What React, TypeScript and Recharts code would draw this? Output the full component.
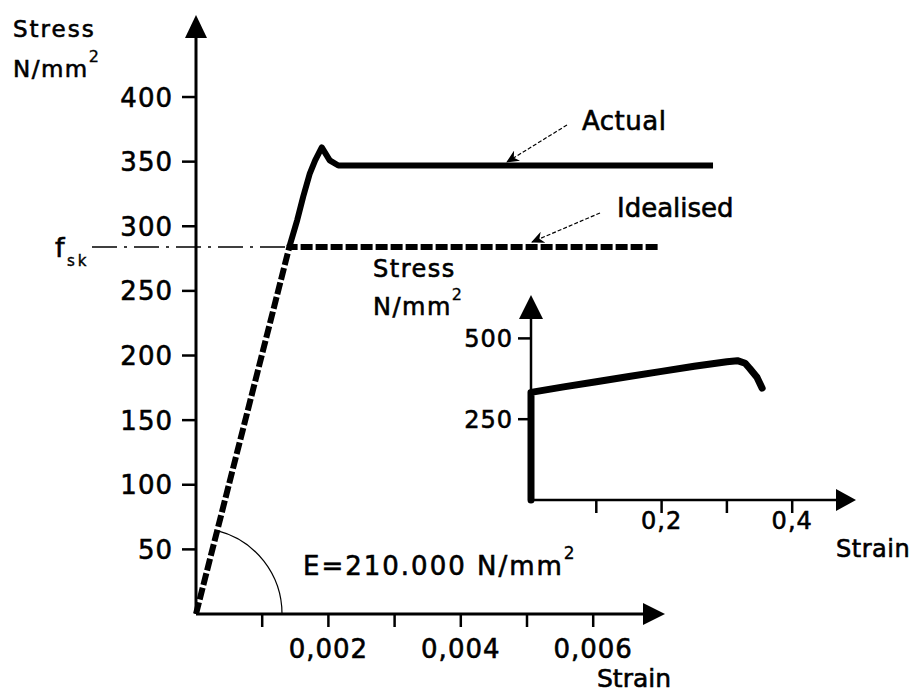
import { LineChart, Line, XAxis, YAxis } from "recharts";

// main diagram: strain [-] vs stress [N/mm2]
const MAIN_X_TICKS = [0.001, 0.002, 0.003, 0.004, 0.005, 0.006];
const MAIN_X_LABELS: Record<string, string> = { "0.002": "0,002", "0.004": "0,004", "0.006": "0,006" };
const MAIN_Y_TICKS = [50, 100, 150, 200, 250, 300, 350, 400];

const IDEALISED_STRAIN = [0, 0.00141, 0.00701];
const IDEALISED_STRESS = [0, 284, 284];

const ACTUAL_STRAIN = [0.00141, 0.00153, 0.00162, 0.00172, 0.0018, 0.0019, 0.00202, 0.00215, 0.00781];
const ACTUAL_STRESS = [284, 305, 323, 341, 351, 361, 351, 347, 347];

const FSK = 284;

// inset: full curve up to rupture
const INSET_STRAIN = [0, 0, 0.05, 0.1, 0.15, 0.2, 0.25, 0.3, 0.316, 0.328, 0.335, 0.346, 0.354];
const INSET_STRESS = [0, 333, 350, 366, 382, 398, 414, 428, 431, 423, 407, 380, 346];
const INSET_X_TICKS = [0.1, 0.2, 0.3, 0.4];
const INSET_X_LABELS: Record<string, string> = { "0.2": "0,2", "0.4": "0,4" };
const INSET_Y_TICKS = [250, 500];

const toRows = (xs: number[], ys: number[]) => xs.map((strain, i) => ({ strain, stress: ys[i] }));

const idealised = toRows(IDEALISED_STRAIN, IDEALISED_STRESS);
const actual = toRows(ACTUAL_STRAIN, ACTUAL_STRESS);
const inset = toRows(INSET_STRAIN, INSET_STRESS);

const W = 917;
const H = 694;
const FONT = "'DejaVu Sans', 'Liberation Sans', sans-serif";
// the scan's lettering is a bit heavier than a plain regular weight
const INK = { fontFamily: FONT, fill: "#000", stroke: "#000", strokeWidth: 0.6 };

// plot areas (same numbers go into chart margins)
const M = { left: 196, bottom: 614, right: 725.6, top: 32.4, xMax: 0.008, yMax: 450 };
const I = { left: 531, bottom: 500, right: 857.5, top: 319, xMax: 0.5, yMax: 560 };

const mx = (v: number) => M.left + (v / M.xMax) * (M.right - M.left);
const my = (v: number) => M.bottom - (v / M.yMax) * (M.bottom - M.top);

const MainXTick = ({ x, y, payload }: any) => {
    const label = MAIN_X_LABELS[String(payload.value)];
    if (!label) return <g />;
    return (
        <text x={x} y={y} dy={31} textAnchor="middle" fontSize={26} letterSpacing={1} {...INK}>
            {label}
        </text>
    );
};

const MainYTick = ({ x, y, payload }: any) => (
    <text x={x} y={y} dy={9.5} textAnchor="end" fontSize={26} letterSpacing={1} {...INK}>
        {payload.value}
    </text>
);

const InsetXTick = ({ x, y, payload }: any) => {
    const label = INSET_X_LABELS[String(payload.value)];
    if (!label) return <g />;
    return (
        <text x={x} y={y} dy={16} textAnchor="middle" fontSize={24} letterSpacing={1} {...INK}>
            {label}
        </text>
    );
};

const InsetYTick = ({ x, y, payload }: any) => (
    <text x={x} y={y} dy={9} textAnchor="end" fontSize={24} letterSpacing={1} {...INK}>
        {payload.value}
    </text>
);

function Overlay() {
    const cornerX = mx(IDEALISED_STRAIN[1]);
    const fskY = my(FSK);
    // modulus arc drawn round the origin up to the elastic line
    const ang = Math.atan2(M.bottom - fskY, cornerX - M.left);
    const r = 86;
    const arcEnd = [M.left + r * Math.cos(ang), M.bottom - r * Math.sin(ang)];

    return (
        <svg width={W} height={H} style={{ position: "absolute", left: 0, top: 0, pointerEvents: "none" }}>
            <defs>
                <marker id="ah" markerUnits="userSpaceOnUse" markerWidth={14} markerHeight={12} refX={12} refY={6} orient="auto">
                    <path d="M0,0 L13,6 L0,12 L4,6 Z" fill="#000" />
                </marker>
            </defs>

            {/* main axes */}
            <line x1={M.left} y1={M.bottom} x2={M.left} y2={36} stroke="#000" strokeWidth={3} />
            <polygon points={`${M.left},15 ${M.left - 11},38 ${M.left + 11},38`} fill="#000" />
            <line x1={M.left} y1={M.bottom} x2={646} y2={M.bottom} stroke="#000" strokeWidth={3} />
            <polygon points={`665,${M.bottom} 643,${M.bottom - 11} 643,${M.bottom + 11}`} fill="#000" />

            {/* inset axes */}
            <line x1={I.left} y1={I.bottom} x2={I.left} y2={317} stroke="#000" strokeWidth={2.5} />
            <polygon points={`${I.left},295 ${I.left - 12},319 ${I.left + 12},319`} fill="#000" />
            <line x1={I.left} y1={I.bottom} x2={838} y2={I.bottom} stroke="#000" strokeWidth={2.5} />
            <polygon points={`856,${I.bottom} 836,${I.bottom - 11} 836,${I.bottom + 11}`} fill="#000" />

            {/* f_sk line */}
            <line x1={92} y1={fskY} x2={cornerX} y2={fskY} stroke="#000" strokeWidth={1.5} strokeDasharray="25 7 3 7" />
            <text x={55} y={257} fontSize={27} {...INK}>f</text>
            <text x={67} y={266} fontSize={15} letterSpacing={3} {...INK} strokeWidth={0.4}>sk</text>

            {/* modulus arc */}
            <path d={`M${M.left + r},${M.bottom} A${r},${r} 0 0 0 ${arcEnd[0]},${arcEnd[1]}`} fill="none" stroke="#000" strokeWidth={1.2} />

            {/* callouts */}
            <line x1={567} y1={125} x2={507} y2={162} stroke="#000" strokeWidth={1.2} strokeDasharray="4 2" markerEnd="url(#ah)" />
            <line x1={600} y1={213} x2={532} y2={242} stroke="#000" strokeWidth={1.2} strokeDasharray="4 2" markerEnd="url(#ah)" />
            <text x={582} y={130} fontSize={26} letterSpacing={0.5} {...INK}>Actual</text>
            <text x={617} y={217} fontSize={26} {...INK}>Idealised</text>

            {/* axis titles */}
            <text x={13} y={37} fontSize={23} letterSpacing={2} {...INK}>Stress</text>
            <text x={13} y={77} fontSize={23} letterSpacing={1.5} {...INK}>
                N/mm<tspan fontSize={16} dy={-15} strokeWidth={0.3}>2</tspan>
            </text>
            <text x={597} y={687} fontSize={25} {...INK}>Strain</text>

            <text x={373} y={277} fontSize={24} letterSpacing={1.5} {...INK}>Stress</text>
            <text x={373} y={315} fontSize={24} letterSpacing={1.5} {...INK}>
                N/mm<tspan fontSize={16} dy={-15} strokeWidth={0.3}>2</tspan>
            </text>
            <text x={836} y={557} fontSize={24} letterSpacing={0.5} {...INK}>Strain</text>

            <text x={303} y={575} fontSize={26} letterSpacing={2} {...INK}>
                E=210.000 N/mm<tspan fontSize={17} dy={-16} strokeWidth={0.3}>2</tspan>
            </text>
        </svg>
    );
}

export default function App() {
    return (
        <div style={{ position: "absolute", left: 0, top: 0, width: W, height: H, background: "#fff" }}>
            <div style={{ position: "absolute", left: 0, top: 0 }}>
                <LineChart
                    width={W}
                    height={H}
                    margin={{ top: M.top, right: W - M.right, bottom: H - M.bottom - 50, left: M.left - 100 }}
                >
                    <XAxis
                        type="number"
                        dataKey="strain"
                        domain={[0, M.xMax]}
                        ticks={MAIN_X_TICKS}
                        interval={0}
                        height={50}
                        axisLine={false}
                        tickSize={13}
                        tickMargin={0}
                        tickLine={{ stroke: "#000", strokeWidth: 2.5 }}
                        tick={<MainXTick />}
                    />
                    <YAxis
                        type="number"
                        domain={[0, M.yMax]}
                        ticks={MAIN_Y_TICKS}
                        interval={0}
                        width={100}
                        axisLine={false}
                        tickSize={14}
                        tickMargin={9}
                        tickLine={{ stroke: "#000", strokeWidth: 2.5 }}
                        tick={<MainYTick />}
                    />
                    <Line
                        data={idealised}
                        dataKey="stress"
                        stroke="#000"
                        strokeWidth={6}
                        strokeDasharray="12 3"
                        dot={false}
                        isAnimationActive={false}
                    />
                    <Line
                        data={actual}
                        dataKey="stress"
                        stroke="#000"
                        strokeWidth={6}
                        strokeLinejoin="round"
                        dot={false}
                        isAnimationActive={false}
                    />
                </LineChart>
            </div>
            <div style={{ position: "absolute", left: 0, top: 0 }}>
                <LineChart
                    width={W}
                    height={H}
                    margin={{ top: I.top, right: W - I.right, bottom: H - I.bottom - 40, left: I.left - 60 }}
                >
                    <XAxis
                        type="number"
                        dataKey="strain"
                        domain={[0, I.xMax]}
                        ticks={INSET_X_TICKS}
                        interval={0}
                        height={40}
                        axisLine={false}
                        tickSize={13}
                        tickMargin={0}
                        tickLine={{ stroke: "#000", strokeWidth: 2.5 }}
                        tick={<InsetXTick />}
                    />
                    <YAxis
                        type="number"
                        domain={[0, I.yMax]}
                        ticks={INSET_Y_TICKS}
                        interval={0}
                        width={60}
                        axisLine={false}
                        tickSize={13}
                        tickMargin={5}
                        tickLine={{ stroke: "#000", strokeWidth: 2.5 }}
                        tick={<InsetYTick />}
                    />
                    <Line
                        data={inset}
                        dataKey="stress"
                        stroke="#000"
                        strokeWidth={7}
                        strokeLinejoin="round"
                        strokeLinecap="round"
                        dot={false}
                        isAnimationActive={false}
                    />
                </LineChart>
            </div>
            <Overlay />
        </div>
    );
}
